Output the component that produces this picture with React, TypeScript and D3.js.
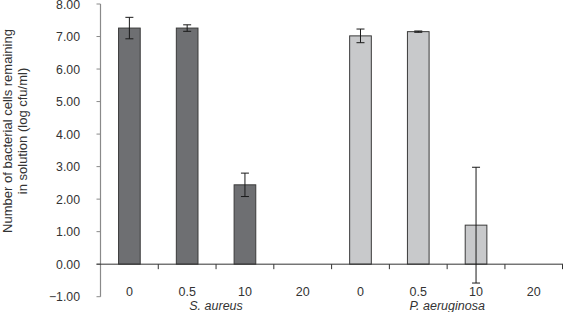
import React from "react";
import * as d3 from "d3";

const categories = ["0", "0.5", "10", "20", "0 ", "0.5 ", "10 ", "20 "];
const tickLabels = ["0", "0.5", "10", "20", "0", "0.5", "10", "20"];
const groups = ["S. aureus", "P. aeruginosa"];
const values = [7.26, 7.26, 2.44, 0, 7.02, 7.15, 1.2, 0];
const errors = [0.33, 0.1, 0.36, 0, 0.21, 0.02, 1.78, 0];
const groupOf = [0, 0, 0, 0, 1, 1, 1, 1];
const yTicks = [-1, 0, 1, 2, 3, 4, 5, 6, 7, 8];
const fills = ["#6e6f72", "#c8c9cb"];

const W = 563;
const H = 312;
const FONT = "'Liberation Sans', Arial, sans-serif";

export default function App() {
  const x = d3.scaleBand<string>().domain(categories).range([100.5, 562.7]).padding(0);
  const y = d3.scaleLinear().domain([-1, 8]).range([296.7, 4]);
  const bw = x.bandwidth();
  const barW = bw * 0.375;
  const fmt = d3.format(".2f");
  const fmtTick = (v: number) => (v < 0 ? "\u2212" + fmt(-v) : fmt(v));

  return (
    <svg width={W} height={H} style={{ position: "absolute", left: 0, top: 0, background: "#fff" }}>
      <rect x={0} y={0} width={W} height={H} fill="#fff" />
      {/* y title */}
      <g transform={`translate(0,${131}) rotate(-90)`} fontFamily={FONT} fontSize={13} fill="#333" textAnchor="middle">
        <text x={0} y={12}>Number of bacterial cells remaining</text>
        <text x={0} y={27}>in solution (log cfu/ml)</text>
      </g>
      {/* y axis */}
      <line x1={100.5} x2={100.5} y1={y(8)} y2={y(-1)} stroke="#8a8a8a" strokeWidth={1.2} />
      {yTicks.map((t) => (
        <g key={t}>
          <line x1={96.5} x2={100.5} y1={y(t)} y2={y(t)} stroke="#8a8a8a" strokeWidth={1} />
          <text x={80} y={y(t) + 4.5} textAnchor="end" fontFamily={FONT} fontSize={12.3} fill="#333">
            {fmtTick(t)}
          </text>
        </g>
      ))}
      {/* bars */}
      {categories.map((c, i) => {
        const cx = (x(c) as number) + bw / 2;
        const v = values[i];
        return (
          <g key={c}>
            {v > 0 && (
              <rect
                x={cx - barW / 2}
                y={y(v)}
                width={barW}
                height={y(0) - y(v)}
                fill={fills[groupOf[i]]}
                stroke="#3a3a3a"
                strokeWidth={1}
              />
            )}
          </g>
        );
      })}
      {/* x axis line */}
      <line x1={96.5} x2={563} y1={y(0)} y2={y(0)} stroke="#333" strokeWidth={1} />
      {categories.slice(1).map((c) => (
        <line key={"t" + c} x1={x(c) as number} x2={x(c) as number} y1={y(0)} y2={y(0) + 5} stroke="#333" strokeWidth={1} />
      ))}
      <line x1={562.5} x2={562.5} y1={y(0)} y2={y(0) + 5} stroke="#333" strokeWidth={1} />
      {/* error bars */}
      {categories.map((c, i) => {
        const cx = (x(c) as number) + bw / 2;
        const v = values[i];
        const e = errors[i];
        if (v <= 0) return null;
        return (
          <g key={"e" + c} stroke="#1a1a1a" strokeWidth={1}>
            <line x1={cx} x2={cx} y1={y(v + e)} y2={y(v - e)} />
            <line x1={cx - 4} x2={cx + 4} y1={y(v + e)} y2={y(v + e)} />
            <line x1={cx - 4} x2={cx + 4} y1={y(v - e)} y2={y(v - e)} />
          </g>
        );
      })}
      {/* category labels */}
      {categories.map((c, i) => (
        <text key={"l" + c} x={(x(c) as number) + bw / 2} y={295.5} textAnchor="middle" fontFamily={FONT} fontSize={12.5} fill="#333">
          {tickLabels[i]}
        </text>
      ))}
      {groups.map((g, gi) => {
        const start = x(categories[gi * 4]) as number;
        const cx = start + bw * 2;
        return (
          <text key={g} x={cx} y={310} textAnchor="middle" fontFamily={FONT} fontSize={12.5} fontStyle="italic" fill="#333">
            {g}
          </text>
        );
      })}
    </svg>
  );
}
